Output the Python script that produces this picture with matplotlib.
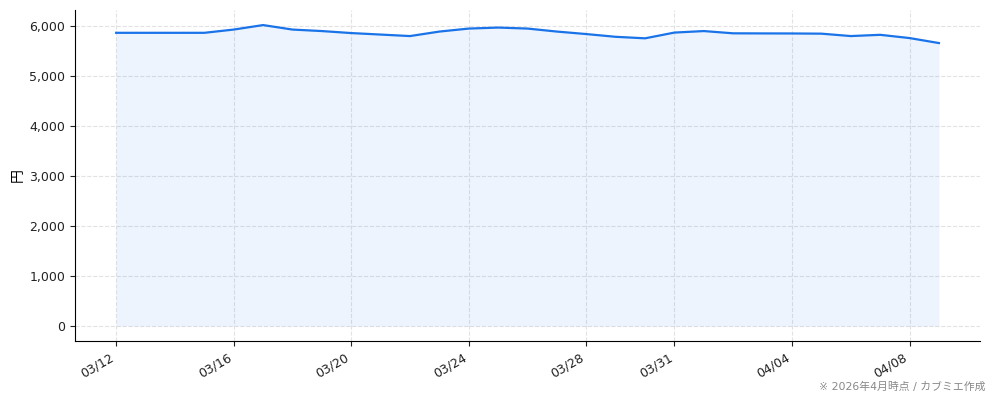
import numpy as np
import pandas as pd
import matplotlib
matplotlib.use("Agg")
import matplotlib.pyplot as plt
import matplotlib.dates as mdates
from matplotlib.ticker import FuncFormatter

plt.rcParams['font.family'] = ['DejaVu Sans', 'Noto Sans CJK JP']

# daily values (円)
dates = pd.date_range("2026-03-12", "2026-04-09", freq="D")
prices = [5865, 5865, 5865, 5865, 5930, 6020, 5930, 5900, 5860, 5830,
          5800, 5890, 5950, 5970, 5950, 5890, 5840, 5785, 5755, 5870,
          5900, 5855, 5853, 5852, 5848, 5800, 5825, 5760, 5660]
tick_dates = ["2026-03-12", "2026-03-16", "2026-03-20", "2026-03-24",
              "2026-03-28", "2026-03-31", "2026-04-04", "2026-04-08"]
note = "※ 2026年4月時点 / カブミエ作成"

line_color = "#1a73e8"

fig = plt.figure(figsize=(9.94, 4.01), dpi=100)
ax = fig.add_axes([0.0755, 0.1496, 0.9105, 0.8254])

ax.plot(dates, prices, color=line_color, linewidth=1.6)
ax.fill_between(dates, prices, 0, color=line_color, alpha=0.08, linewidth=0)

ax.set_xticks(pd.to_datetime(tick_dates))
ax.xaxis.set_major_formatter(mdates.DateFormatter("%m/%d"))
ax.yaxis.set_major_formatter(FuncFormatter(lambda v, p: f"{int(v):,}"))
ax.set_yticks(np.arange(0, 6001, 1000))
ax.set_ylabel("円", fontsize=10, family=['Noto Sans CJK JP'], labelpad=3)

ax.grid(True, linestyle="--", color="#e2e2e2", linewidth=0.8)
ax.set_axisbelow(True)
for s in ["top", "right"]:
    ax.spines[s].set_visible(False)
ax.tick_params(labelsize=9, colors="#222222")
plt.setp(ax.get_xticklabels(), rotation=30, ha="right")

fig.text(0.991, 0.022, note, ha="right", va="bottom", fontsize=7.8, color="#888888")

fig.savefig("out.png", dpi=100)
